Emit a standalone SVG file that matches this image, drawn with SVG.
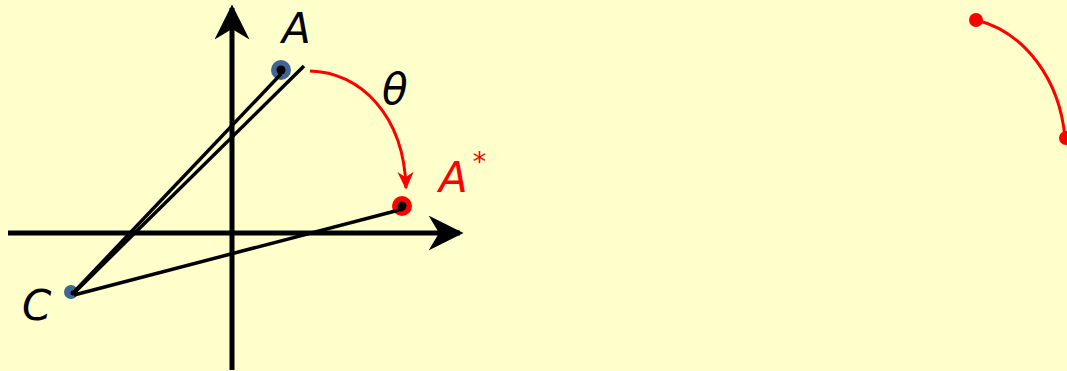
<svg xmlns="http://www.w3.org/2000/svg" width="1067" height="371" viewBox="0 0 1067 371">
<style>
.axis{stroke:#000;stroke-width:5;fill:none}
.seg{stroke:#000;stroke-width:3.5;fill:none}
.rot{stroke:#f00;stroke-width:3;fill:none}
.lbl{font-family:"DejaVu Sans",sans-serif;font-style:italic;font-size:42px}
.blue{fill:#3f6594}
.dot{fill:#000}
</style>
<defs>
<marker id="axArrow" viewBox="0 0 20 20" refX="18" refY="10" markerWidth="7" markerHeight="7" markerUnits="strokeWidth" orient="auto">
<path d="M0,0 L20,10 L0,20 L6,10 Z" fill="#000"/>
</marker>
<marker id="redArrow" viewBox="0 0 20 20" refX="18" refY="10" markerWidth="6" markerHeight="6" markerUnits="strokeWidth" orient="auto">
<path d="M0,1 L20,10 L0,19 L6,10 Z" fill="#f00"/>
</marker>
</defs>
<rect width="1067" height="371" fill="#ffffcc"/>
<g id="node-A">
<circle class="blue" cx="281" cy="70" r="10"/>
<circle class="dot" cx="281" cy="70" r="4.5"/>
<text class="lbl" x="282" y="43">A</text>
</g>
<g id="node-Astar">
<circle fill="#f00" cx="402" cy="206" r="10"/>
<circle class="dot" cx="402" cy="206" r="4.5"/>
<text class="lbl" x="439" y="192" fill="#f00">A<tspan font-size="27px" dx="5" dy="-21">*</tspan></text>
</g>
<g id="node-C">
<circle class="blue" cx="71" cy="292" r="7"/>
<circle class="dot" cx="73" cy="293" r="2.5"/>
<text class="lbl" x="22" y="320">C</text>
</g>
<g id="connectors">
<line class="axis" x1="232" y1="370" x2="232" y2="8" marker-end="url(#axArrow)"/>
<line class="axis" x1="8" y1="233" x2="460" y2="233" marker-end="url(#axArrow)"/>
<line class="seg" x1="74" y1="292" x2="281" y2="74"/>
<line class="seg" x1="74" y1="293" x2="304" y2="66"/>
<line class="seg" x1="74" y1="295" x2="403" y2="209"/>
<path class="rot" d="M310,71 C360,72 404,115 406,188" marker-end="url(#redArrow)"/>
<path class="rot" d="M976,20 C1025,32 1060,80 1065,138"/>
</g>
<g id="theta">
<text class="lbl" x="382" y="104">θ</text>
</g>
<g id="right-arc">
<circle fill="#f00" cx="976" cy="20" r="7"/>
<circle fill="#f00" cx="1066" cy="138" r="7"/>
</g>
</svg>
